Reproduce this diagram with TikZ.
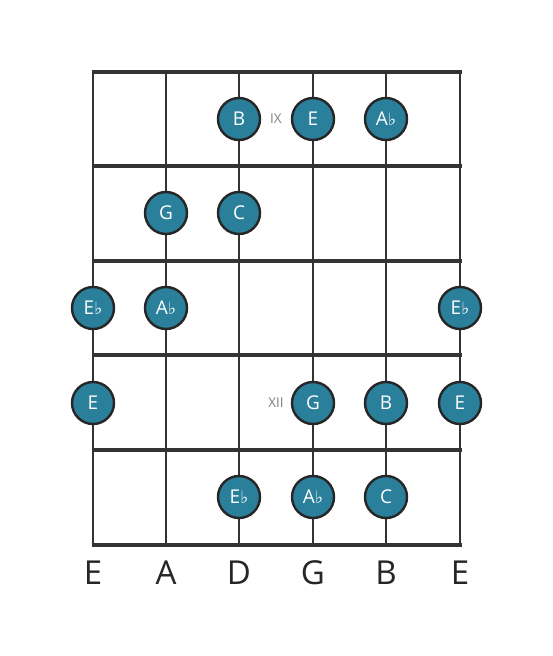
\documentclass[tikz,border=0pt]{standalone}
\usepackage{fontspec}
\setmainfont{Open Sans}
\newfontfamily\flatfont{DejaVu Sans}
\newcommand{\fl}{{\flatfont\fontsize{17}{17}\selectfont ♭}}
\tikzset{
  note/.style={circle, draw=black!85, line width=2.4pt, fill=dotfill, text=white,
    minimum size=42pt, inner sep=0pt, font=\fontsize{19}{19}\selectfont},
  fretline/.style={line width=4.5pt, black!80},
  stringline/.style={line width=2.6pt, black!80},
  fretnum/.style={text=black!50, font=\fontsize{13.5}{13.5}\selectfont},
  strname/.style={text=black!85, font=\fontsize{33}{33}\selectfont}
}
\definecolor{dotfill}{HTML}{2A7F9B}
\begin{document}
\begin{tikzpicture}[x=1pt,y=-1pt]
  \useasboundingbox[fill=white] (0,0) rectangle (553,656);
  % Draw the strings
  \foreach \s/\x in {1/93,2/166,3/239,4/313,5/386,6/460} {
    \coordinate (top\s) at (\x,72);
    \coordinate (bot\s) at (\x,545);
    \draw[stringline] (top\s) -- (bot\s);
  }
  % Draw the frets with thicker lines
  \foreach \f/\y in {0/72,1/166,2/261,3/355,4/450,5/545} {
    \coordinate (fl\f) at (91.5,\y);
    \coordinate (fr\f) at (461.5,\y);
    \draw[fretline] (fl\f) -- (fr\f);
  }
  % Fret numbers
  \node[fretnum] (ix) at (276,119) {IX};
  \node[fretnum] (xii) at (276,403) {XII};
  % Plot the notes
  \node[note] (n1) at (239,119) {B};
  \node[note] (n2) at (313,119) {E};
  \node[note] (n3) at (386,119) {A\fl};
  \node[note] (n4) at (166,213) {G};
  \node[note] (n5) at (239,213) {C};
  \node[note] (n6) at (93,308) {E\fl};
  \node[note] (n7) at (166,308) {A\fl};
  \node[note] (n8) at (460,308) {E\fl};
  \node[note] (n9) at (93,403) {E};
  \node[note] (n10) at (313,403) {G};
  \node[note] (n11) at (386,403) {B};
  \node[note] (n12) at (460,403) {E};
  \node[note] (n13) at (239,497) {E\fl};
  \node[note] (n14) at (313,497) {A\fl};
  \node[note] (n15) at (386,497) {C};
  % String names
  \node[strname] (s1) at (93,573) {E};
  \node[strname] (s2) at (166,573) {A};
  \node[strname] (s3) at (239,573) {D};
  \node[strname] (s4) at (313,573) {G};
  \node[strname] (s5) at (386,573) {B};
  \node[strname] (s6) at (460,573) {E};
\end{tikzpicture}
\end{document}
